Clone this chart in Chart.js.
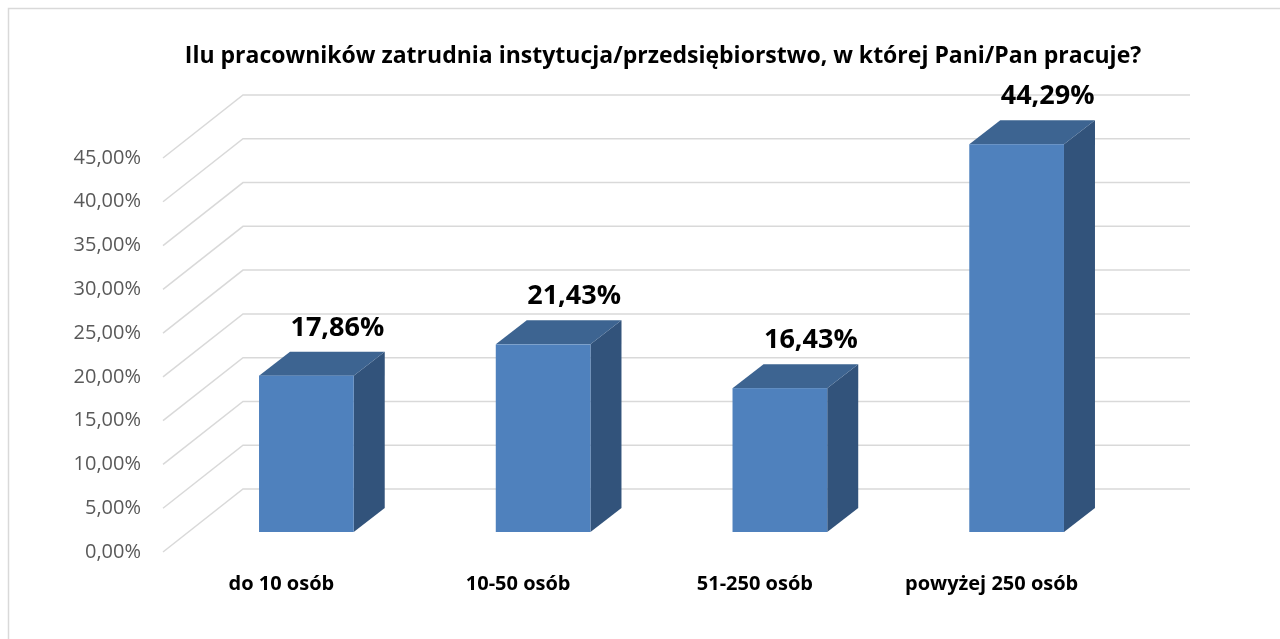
<!DOCTYPE html>
<html lang="pl">
<head>
<meta charset="utf-8">
<title>Ilu pracowników zatrudnia instytucja</title>
<script src="https://cdn.jsdelivr.net/npm/chart.js@4.4.1/dist/chart.umd.min.js"></script>
<style>
  html, body { margin: 0; padding: 0; background: #ffffff; }
  #wrap { width: 1280px; height: 639px; position: relative; }
</style>
</head>
<body>
<div id="wrap"><canvas id="employeesChart"></canvas></div>
<script>
const categories = ["do 10 osób", "10-50 osób", "51-250 osób", "powyżej 250 osób"];
const shares = [17.86, 21.43, 16.43, 44.29];
const yTicks = [0, 5, 10, 15, 20, 25, 30, 35, 40, 45];
const chartTitle = "Ilu pracowników zatrudnia instytucja/przedsiębiorstwo, w której Pani/Pan pracuje?";

const pct = v => v.toFixed(2).replace(".", ",") + "%";

// 3D look: wall depth, bar position inside depth, bar depth
const WALL_DX = 80, WALL_DY = -63;
const BAR_DX = 25, BAR_DY = -20;
const DEPTH_DX = 31, DEPTH_DY = -24;

const threeD = {
    id: "threeD",
    beforeDraw(chart) {
        const ctx = chart.ctx;
        ctx.save();
        ctx.fillStyle = "#ffffff";
        ctx.fillRect(0, 0, chart.width, chart.height);
        ctx.strokeStyle = "#d9d9d9";
        ctx.lineWidth = 1.5;
        ctx.strokeRect(8.5, 8.5, chart.width + 20, chart.height + 20);

        // title, centred like the original rather than over the plot
        ctx.fillStyle = "#000000";
        ctx.font = "bold 23px 'Open Sans'";
        ctx.textAlign = "center";
        ctx.textBaseline = "alphabetic";
        ctx.fillText(chartTitle, 663, 63);
        ctx.restore();
    },
    beforeDatasetsDraw(chart) {
        const ctx = chart.ctx;
        const area = chart.chartArea;
        const y = chart.scales.y;
        ctx.save();
        ctx.strokeStyle = "#d9d9d9";
        ctx.lineWidth = 1.5;
        yTicks.forEach(t => {
            const py = y.getPixelForValue(t);
            ctx.beginPath();
            ctx.moveTo(area.left, py);
            ctx.lineTo(area.left + WALL_DX, py + WALL_DY);
            ctx.lineTo(area.right + WALL_DX, py + WALL_DY);
            ctx.stroke();
        });
        ctx.restore();
    },
    afterDatasetsDraw(chart) {
        const ctx = chart.ctx;
        const meta = chart.getDatasetMeta(0);
        ctx.save();
        meta.data.forEach((bar, i) => {
            const left = bar.x - bar.width / 2 + BAR_DX;
            const right = bar.x + bar.width / 2 + BAR_DX;
            const top = bar.y + BAR_DY;
            const bottom = bar.base + BAR_DY;

            // side
            ctx.fillStyle = "#32537b";
            ctx.beginPath();
            ctx.moveTo(right, top);
            ctx.lineTo(right + DEPTH_DX, top + DEPTH_DY);
            ctx.lineTo(right + DEPTH_DX, bottom + DEPTH_DY);
            ctx.lineTo(right, bottom);
            ctx.closePath();
            ctx.fill();

            // top
            ctx.fillStyle = "#3d6491";
            ctx.beginPath();
            ctx.moveTo(left, top);
            ctx.lineTo(left + DEPTH_DX, top + DEPTH_DY);
            ctx.lineTo(right + DEPTH_DX, top + DEPTH_DY);
            ctx.lineTo(right, top);
            ctx.closePath();
            ctx.fill();

            // front
            ctx.fillStyle = "#4f81bd";
            ctx.fillRect(left, top, right - left, bottom - top);

            // value label
            ctx.fillStyle = "#000000";
            ctx.font = "bold 27px 'Open Sans'";
            ctx.textAlign = "center";
            ctx.textBaseline = "alphabetic";
            ctx.fillText(pct(shares[i]), bar.x + BAR_DX + 31, top + DEPTH_DY - 16);
        });
        ctx.restore();
    }
};

new Chart(document.getElementById("employeesChart"), {
    type: "bar",
    data: {
        labels: categories,
        datasets: [{
            data: shares,
            backgroundColor: "rgba(0,0,0,0)",
            borderWidth: 0,
            categoryPercentage: 1,
            barPercentage: 0.4
        }]
    },
    options: {
        responsive: true,
        maintainAspectRatio: false,
        animation: false,
        layout: { padding: { left: 0, right: 170, top: 158, bottom: 0 } },
        plugins: {
            legend: { display: false },
            tooltip: { enabled: false },
            title: { display: false }
        },
        scales: {
            x: {
                grid: { display: false, drawTicks: false },
                border: { display: false },
                ticks: {
                    color: "#000000",
                    padding: 20,
                    font: { family: "'Open Sans'", size: 20, weight: "bold" }
                },
                afterFit(scale) { scale.height = 87; }
            },
            y: {
                min: 0,
                max: 45,
                grid: { display: false, drawTicks: false },
                border: { display: false },
                ticks: {
                    stepSize: 5,
                    color: "#595959",
                    padding: 22,
                    font: { family: "'Open Sans'", size: 20 },
                    callback: v => pct(v)
                },
                afterFit(scale) { scale.width = 163; }
            }
        }
    },
    plugins: [threeD]
});
</script>
</body>
</html>
